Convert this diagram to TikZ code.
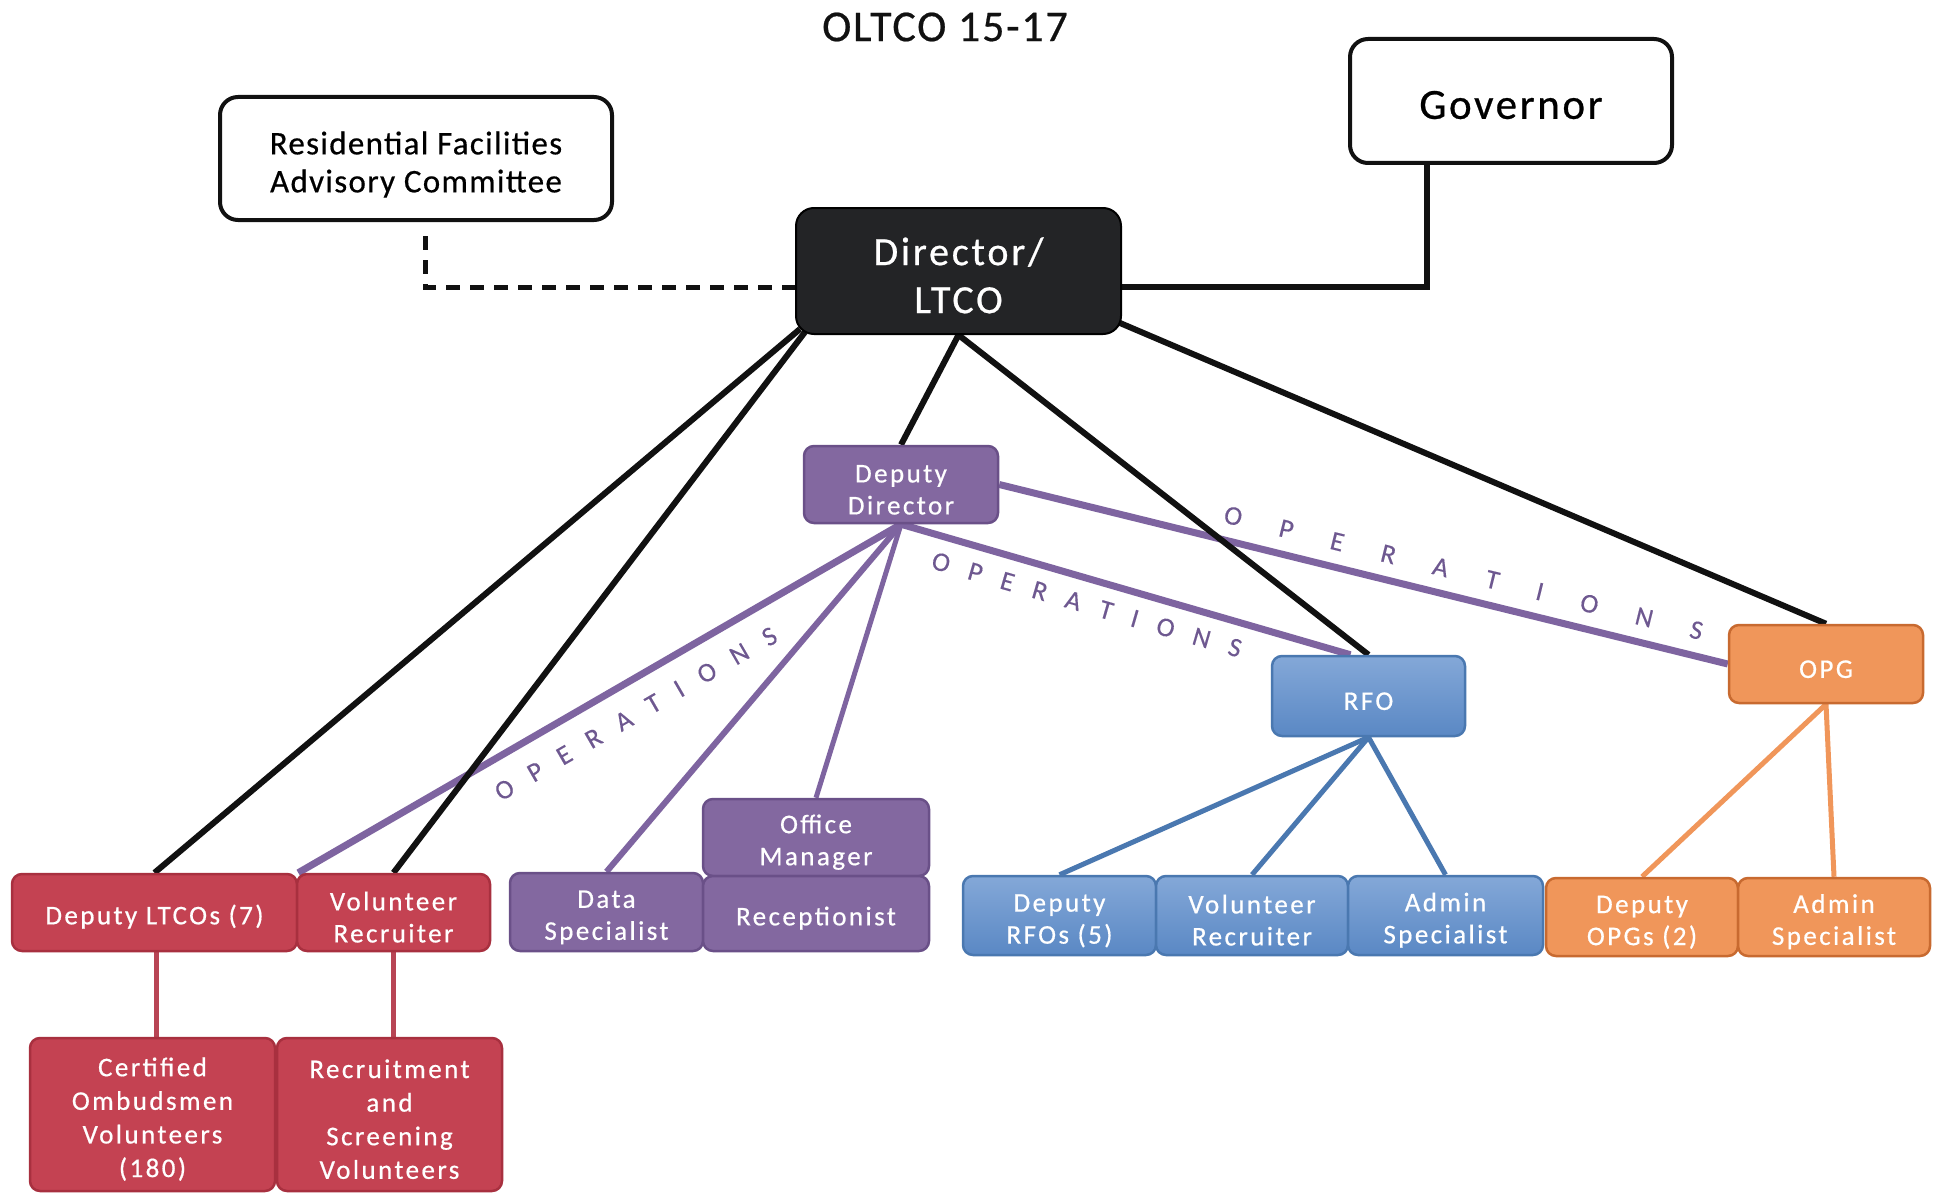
\documentclass[tikz,border=0pt]{standalone}
\usepackage{fontspec}
\setmainfont{Carlito}
\newfontfamily\boxfont[LetterSpace=9,FakeBold=0.6]{Carlito}
\newfontfamily\dirfont[LetterSpace=7,FakeBold=0.6]{Carlito}
\newfontfamily\hdrfont[LetterSpace=4,FakeBold=0.5]{Carlito}
\newfontfamily\govfont[LetterSpace=6,FakeBold=0.6]{Carlito}
\newfontfamily\opfont[FakeBold=0.3]{Carlito}
\usetikzlibrary{calc,backgrounds}
\definecolor{redfill}{HTML}{C44252}
\definecolor{redline}{HTML}{A8303F}
\definecolor{purfill}{HTML}{8368A0}
\definecolor{purline}{HTML}{6A5088}
\definecolor{purconn}{HTML}{7E64A0}
\definecolor{optext}{HTML}{6E5890}
\definecolor{bluetop}{HTML}{84A8D8}
\definecolor{bluebot}{HTML}{5A88C4}
\definecolor{blueline}{HTML}{4A78B0}
\definecolor{orfill}{HTML}{F0965A}
\definecolor{orline}{HTML}{C86A30}
\definecolor{orconn}{HTML}{F0965A}
\definecolor{dirfill}{HTML}{232426}
\definecolor{blk}{HTML}{111111}
\definecolor{redconn}{HTML}{B84555}
\newcommand{\opword}[1]{O\hspace{#1}P\hspace{#1}E\hspace{#1}R\hspace{#1}A\hspace{#1}T\hspace{#1}I\hspace{#1}O\hspace{#1}N\hspace{#1}S}
\newcommand{\tst}{\rule{0pt}{28pt}}
\begin{document}
\begin{tikzpicture}[x=1pt,y=-1pt,
  boxbase/.style={rounded corners=10pt, line width=2.5pt, align=center, inner sep=0pt, text=white,
    font=\boxfont\fontsize{27}{32}\selectfont},
  redbox/.style={boxbase, fill=redfill, draw=redline},
  purbox/.style={boxbase, fill=purfill, draw=purline},
  bluebox/.style={boxbase, top color=bluetop, bottom color=bluebot, draw=blueline},
  orbox/.style={boxbase, fill=orfill, draw=orline},
  whitebox/.style={rounded corners=18pt, line width=4pt, draw=blk, fill=white, align=center, inner sep=0pt, text=black},
  bline/.style={draw=blk, line width=6pt},
  pline/.style={draw=purconn, line width=7pt},
  blline/.style={draw=blueline, line width=5pt},
  oline/.style={draw=orconn, line width=5pt},
  rline/.style={draw=redconn, line width=4.5pt},
  oplab/.style={text=optext, inner sep=0pt, font=\opfont\fontsize{27}{30}\selectfont},
]
\useasboundingbox (0,0) rectangle (1942,1193);

% title
\node[font=\hdrfont\fontsize{44}{52}\selectfont, text=blk] (title) at (945,27) {OLTCO 15-17};

% top boxes
\node[whitebox, minimum width=392, minimum height=123, font=\hdrfont\fontsize{33}{38}\selectfont] (rfac) at (416,158.5) {\rule{0pt}{35pt}Residential Facilities\\Advisory Committee};
\node[whitebox, minimum width=322, minimum height=124, font=\govfont\fontsize{43}{50}\selectfont] (gov) at (1511,101) {\rule{0pt}{36pt}Governor};
\node[rounded corners=18pt, fill=dirfill, draw=black, line width=2pt, text=white, align=center, inner sep=0pt,
  minimum width=325, minimum height=126, font=\dirfont\fontsize{40}{48}\selectfont] (dir) at (958.5,271) {\rule{0pt}{36.5pt}Director/\\LTCO};

% second level
\node[purbox, minimum width=194, minimum height=77] (dd) at (901,484.5) {\tst Deputy\\Director};
\node[bluebox, minimum width=193, minimum height=80] (rfo) at (1368.5,696) {\tst RFO};
\node[orbox, minimum width=194, minimum height=78] (opg) at (1826,664) {\tst OPG};

% red group
\node[redbox, minimum width=285, minimum height=77] (dltco) at (154.5,912.5) {\tst Deputy LTCOs (7)};
\node[redbox, minimum width=193, minimum height=77] (vr1) at (393.5,912.5) {\tst Volunteer\\Recruiter};
\node[redbox, minimum width=245, minimum height=153, font=\boxfont\fontsize{27}{33.6}\selectfont] (com) at (152.5,1114.5) {\tst Certified\\Ombudsmen\\Volunteers\\(180)};
\node[redbox, minimum width=225, minimum height=153, font=\boxfont\fontsize{27}{33.6}\selectfont] (rsv) at (389.5,1114.5) {\tst Recruitment\\and\\Screening\\Volunteers};

% purple group
\node[purbox, minimum width=193, minimum height=78] (ds) at (606.5,912) {\tst Data\\Specialist};
\node[purbox, minimum width=226, minimum height=77] (om) at (816,837.5) {\tst Office\\Manager};
\node[purbox, minimum width=226, minimum height=75] (rec) at (816,913.5) {\tst Receptionist};

% blue group
\node[bluebox, minimum width=193, minimum height=79] (drfo) at (1059.5,915.5) {\tst Deputy\\RFOs (5)};
\node[bluebox, minimum width=192, minimum height=79] (vr2) at (1252,915.5) {\tst Volunteer\\Recruiter};
\node[bluebox, minimum width=195, minimum height=79] (as1) at (1445.5,915.5) {\tst Admin\\Specialist};

% orange group
\node[orbox, minimum width=192, minimum height=78] (dopg) at (1642,917) {\tst Deputy\\OPGs (2)};
\node[orbox, minimum width=192, minimum height=78] (as2) at (1834,917) {\tst Admin\\Specialist};

\coordinate (c1) at ($(dltco.south)+(2,0)$);
\coordinate (rfoin) at ($(rfo.north)+(-18,0)$);
\coordinate (dirA) at ($(dir.south west)+(5,-6)$);
\coordinate (dirB) at ($(dir.south west)+(10,-3)$);
\coordinate (dirC) at ($(dir.south east)+(-2,-12)$);
\coordinate (govL) at ($(gov.south)+(-84,0)$);
\coordinate (dirE) at ($(dir.east)+(0,16)$);
\coordinate (dirW) at ($(dir.west)+(0,16)$);
\coordinate (rfacD) at ($(rfac.south)+(9,14)$);

\begin{pgfonlayer}{background}
\fill[white] (0,0) rectangle (1942,1193);
% purple connectors
\draw[pline] (dd.south) -- node[oplab, sloped, below=19pt, pos=0.466] {\opword{19.8pt}} (dltco.north east);
\draw[pline, line width=6pt] (dd.south) -- (ds.north);
\draw[pline, line width=5pt] (dd.south) -- (om.north);
\draw[pline] (dd.south) -- node[oplab, sloped, below=13pt, pos=0.429] {\opword{19.8pt}} (rfoin);
\draw[pline] (dd.east) -- node[oplab, sloped, above=13pt, pos=0.629] {\opword{38.8pt}} (opg.west);
% black connectors
\draw[bline] (dirA) -- (dltco.north);
\draw[bline] (dirB) -- (vr1.north);
\draw[bline] (dir.south) -- (dd.north);
\draw[bline] (dir.south) -- (rfo.north);
\draw[bline] (dirC) -- (opg.north);
\draw[bline] (govL) |- (dirE);
\draw[bline, line width=5pt, dash pattern=on 14pt off 10pt] (rfacD) |- (dirW);
% blue
\draw[blline] (rfo.south) -- (drfo.north);
\draw[blline] (rfo.south) -- (vr2.north);
\draw[blline] (rfo.south) -- (as1.north);
% orange
\draw[oline] (opg.south) -- (dopg.north);
\draw[oline] (opg.south) -- (as2.north);
% red
\draw[rline] (c1) -- (c1 |- com.north);
\draw[rline] (vr1.south) -- (vr1.south |- rsv.north);
\end{pgfonlayer}
\end{tikzpicture}
\end{document}
